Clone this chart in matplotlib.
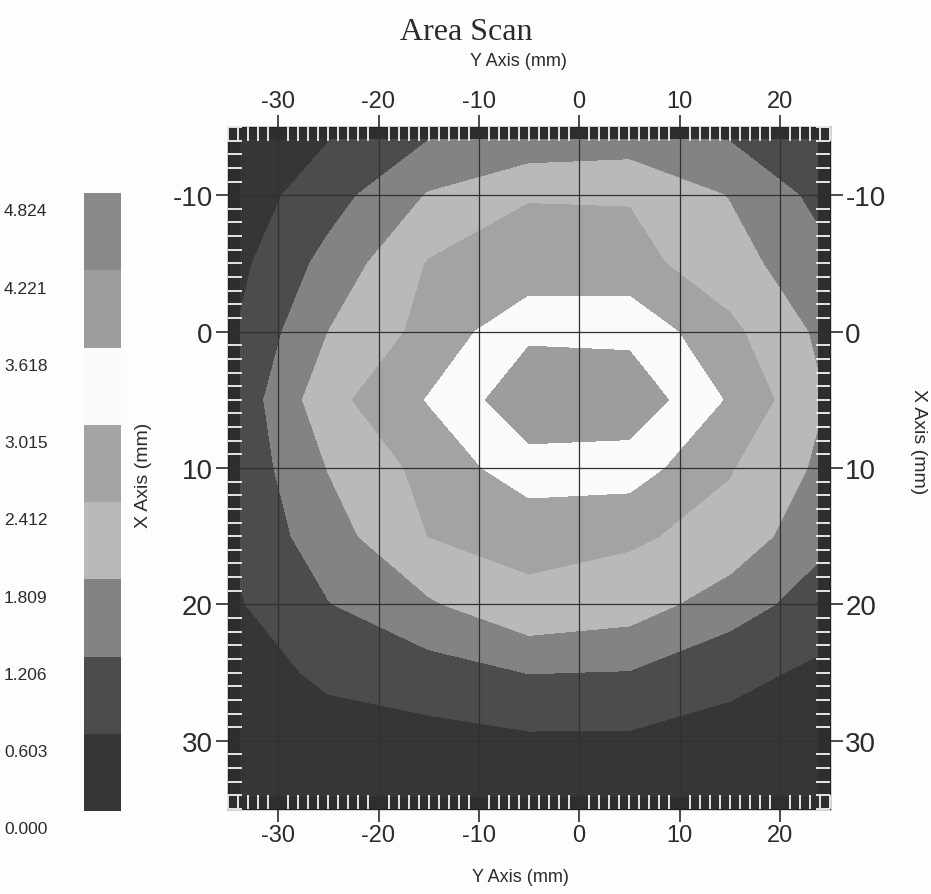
import numpy as np
import matplotlib.pyplot as plt
from matplotlib.patches import Rectangle
from matplotlib.transforms import blended_transform_factory

plt.rcParams['font.family'] = ['Liberation Sans', 'DejaVu Sans']
plt.rcParams['axes.unicode_minus'] = False

# scan grid (mm): columns along the Y axis, rows along the X axis
y_mm = [-35, -25, -15, -5, 5, 15, 25]
x_mm = [-15, -10, -5, 0, 5, 10, 15, 20, 25, 30, 35]

# measured values, one row per X position
signal = [
    [0.12, 0.50, 1.05, 1.13, 1.29, 1.05, 0.55],
    [0.20, 0.95, 1.85, 2.39, 2.37, 1.78, 0.95],
    [0.35, 1.40, 2.45, 2.57, 2.61, 2.06, 1.30],
    [0.50, 1.81, 2.60, 3.50, 3.45, 2.55, 1.60],
    [0.65, 2.21, 3.05, 4.05, 4.05, 2.94, 1.75],
    [0.68, 1.83, 2.60, 3.38, 3.31, 2.45, 1.62],
    [0.62, 1.55, 2.42, 2.55, 2.50, 2.20, 1.30],
    [0.48, 1.18, 1.73, 2.30, 2.10, 1.50, 0.85],
    [0.30, 0.72, 0.94, 1.22, 1.18, 0.75, 0.48],
    [0.15, 0.35, 0.40, 0.50, 0.50, 0.40, 0.30],
    [0.10, 0.25, 0.28, 0.30, 0.30, 0.28, 0.22],
]

levels = [0.000, 0.603, 1.206, 1.809, 2.412, 3.015, 3.618, 4.221, 4.824]
band_colors = ['#363636', '#4c4c4c', '#838383', '#b9b9b9',
               '#a3a3a3', '#fafafa', '#9d9d9d', '#898989']

y_ticks = [-30, -20, -10, 0, 10, 20]
x_ticks = [-10, 0, 10, 20, 30]

W, H = 931, 895
ink = '#2b2b2b'

fig = plt.figure(figsize=(W / 100, H / 100), dpi=100)
fig.patch.set_facecolor('#fdfdfd')

ax = fig.add_axes([228 / W, 1 - 810 / H, 602 / W, 682 / H])
ax.contourf(y_mm, x_mm, signal, levels=levels, colors=band_colors)
ax.set_xlim(-35, 25)
ax.set_ylim(35, -15)
ax.set_axisbelow(False)

# dark frame strip with light comb ticks
sx, sy = 12 / 602, 12 / 682
for r in [(0, 0, 1, sy), (0, 1 - sy, 1, sy), (0, 0, sx, 1), (1 - sx, 0, sx, 1)]:
    ax.add_patch(Rectangle(r[:2], r[2], r[3], transform=ax.transAxes,
                           color='#2e2e2e', lw=0, zorder=2.2))

ax.set_xticks(y_ticks)
ax.set_yticks(x_ticks)
ax.set_xticks(np.arange(-35, 26), minor=True)
ax.set_yticks(np.arange(-15, 36), minor=True)
ax.grid(True, which='major', color='#303030', lw=0.9)

ax.tick_params(axis='x', which='both', top=True, bottom=True,
               labeltop=True, labelbottom=True)
ax.tick_params(axis='y', which='both', left=True, right=True,
               labelleft=True, labelright=True)
ax.tick_params(which='major', direction='out', length=9, width=1.2,
               color=ink, labelcolor=ink, pad=2)
ax.tick_params(which='minor', direction='in', length=10, width=1.4,
               color='#e6e6e6')
ax.tick_params(axis='x', labelsize=17)
ax.tick_params(axis='y', labelsize=20)
for s in ax.spines.values():
    s.set_color('#222222')
    s.set_linewidth(1.0)

fig.text(466 / W, 1 - 32 / H, 'Area Scan', family='Liberation Serif',
         fontsize=23, ha='center', va='center', color=ink)
fig.text(518 / W, 1 - 62 / H, 'Y Axis (mm)', fontsize=13,
         ha='center', va='center', color=ink)
fig.text(520 / W, 1 - 878 / H, 'Y Axis (mm)', fontsize=13,
         ha='center', va='center', color=ink)
fig.text(143 / W, 1 - 475 / H, 'X Axis (mm)', fontsize=14, rotation=90,
         ha='center', va='center', color=ink)
fig.text(919 / W, 1 - 442 / H, 'X Axis (mm)', fontsize=14, rotation=270,
         ha='center', va='center', color=ink)

# colour scale on the left
cax = fig.add_axes([84 / W, 1 - 812 / H, 37 / W, 618 / H])
for lo, hi, c in zip(levels[:-1], levels[1:], band_colors):
    cax.bar(0, hi - lo, bottom=lo, width=1, color=c, lw=0)
cax.set_xlim(-0.5, 0.5)
cax.set_ylim(levels[0], levels[-1])
cax.axis('off')
trans = blended_transform_factory(fig.transFigure, cax.transData)
for lv in levels:
    cax.text(4 / W, lv - 0.14, f'{lv:.3f}', transform=trans, ha='left',
             va='center', fontsize=12.5, color=ink)

fig.savefig('out.png', dpi=100, facecolor=fig.get_facecolor())
